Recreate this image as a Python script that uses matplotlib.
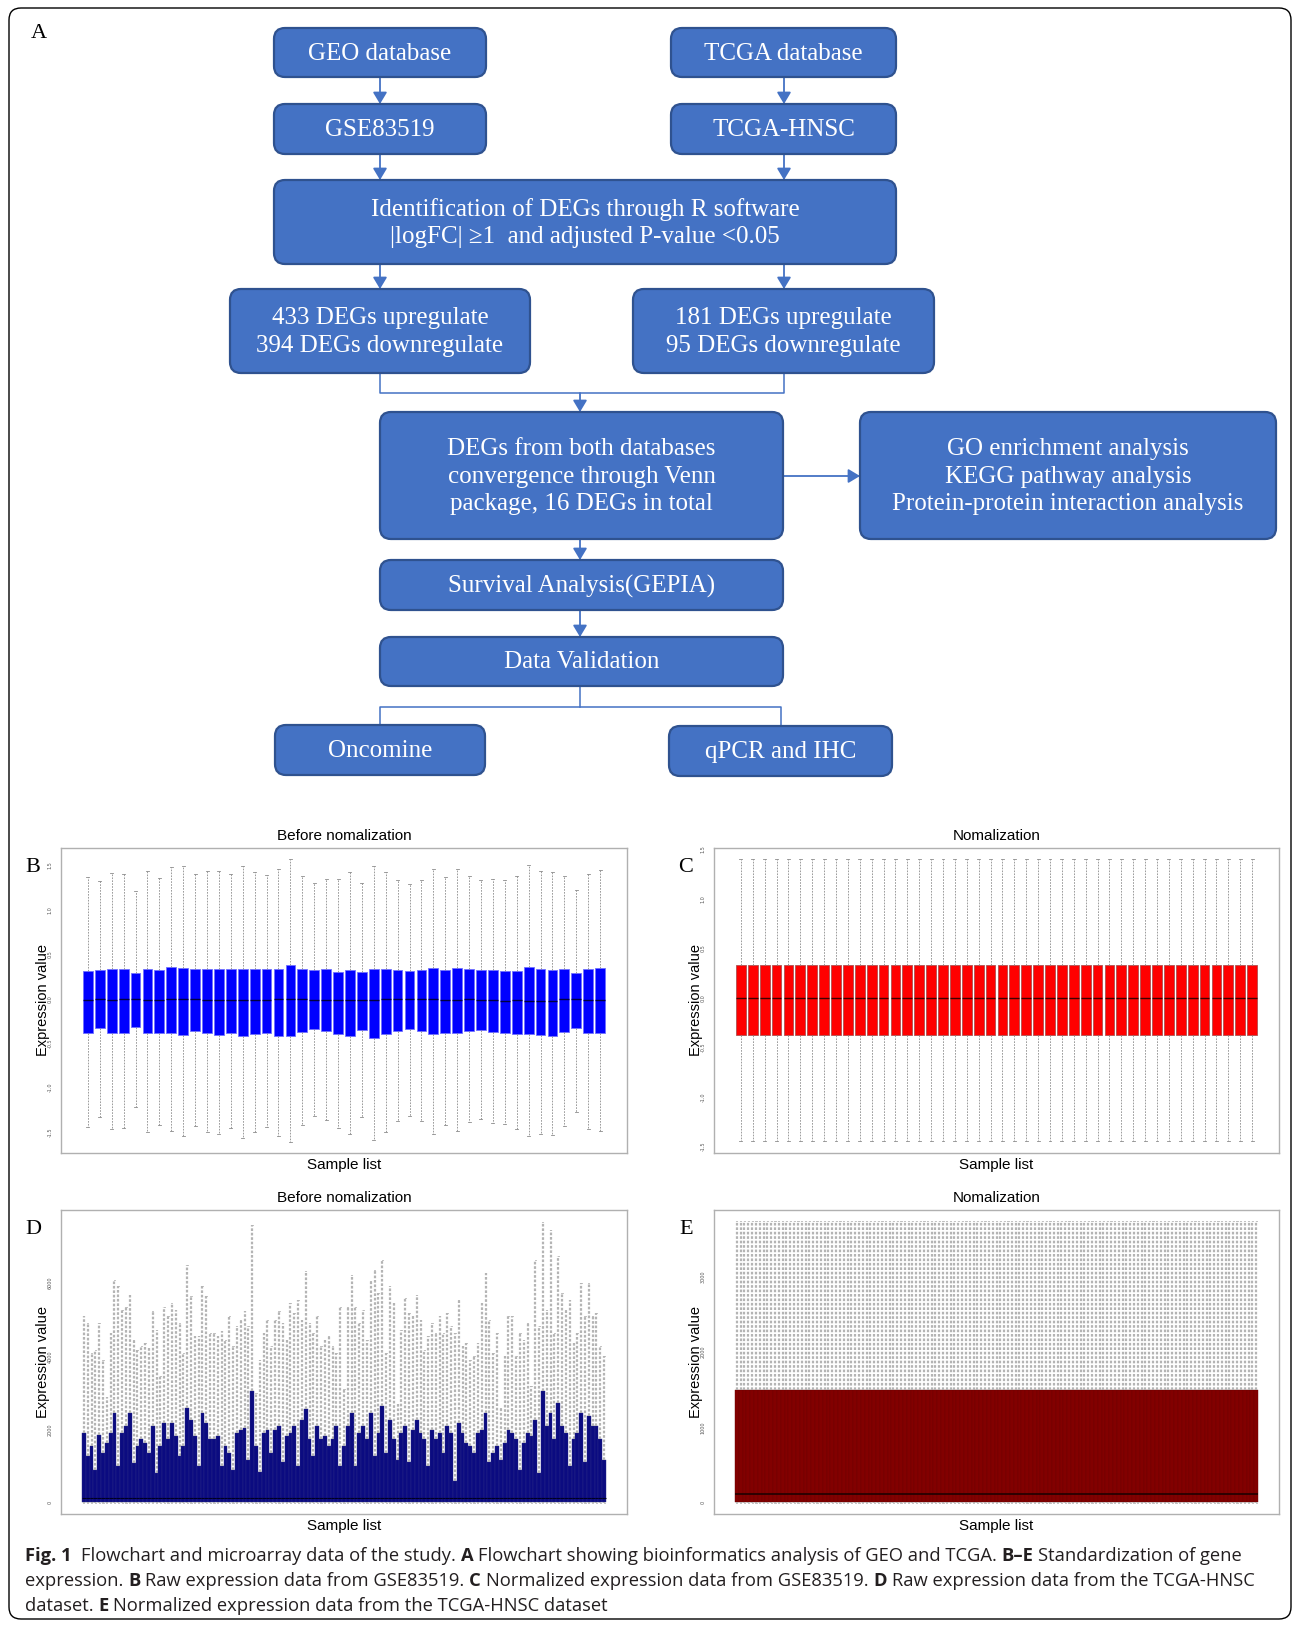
import matplotlib
matplotlib.use("Agg")
import matplotlib.pyplot as plt
from matplotlib.patches import FancyBboxPatch

# ---------------- data ----------------
# panel B: GSE83519 raw (44 samples)
b_whishi = [1.37, 1.33, 1.42, 1.41, 1.21, 1.44, 1.36, 1.48, 1.49, 1.40, 1.44, 1.44, 1.40, 1.49,
            1.43, 1.39, 1.46, 1.57, 1.38, 1.30, 1.35, 1.35, 1.43, 1.30, 1.49, 1.43, 1.34, 1.29,
            1.34, 1.46, 1.37, 1.46, 1.38, 1.34, 1.35, 1.34, 1.38, 1.51, 1.44, 1.43, 1.38, 1.23,
            1.41, 1.45]
b_q3 = [0.31, 0.32, 0.33, 0.33, 0.29, 0.34, 0.32, 0.36, 0.35, 0.34, 0.34, 0.33, 0.33, 0.34,
        0.33, 0.33, 0.33, 0.38, 0.33, 0.32, 0.33, 0.30, 0.32, 0.30, 0.33, 0.33, 0.32, 0.31,
        0.32, 0.35, 0.32, 0.35, 0.33, 0.32, 0.32, 0.31, 0.31, 0.36, 0.33, 0.32, 0.33, 0.29,
        0.33, 0.35]
b_med = [-0.01, 0.0, -0.01, 0.0, 0.0, -0.01, -0.01, 0.0, 0.0, 0.0, -0.01, -0.01, -0.01, -0.01,
         -0.01, -0.01, 0.0, 0.0, 0.0, -0.01, -0.01, -0.01, -0.01, -0.01, -0.01, 0.0, 0.0, 0.0,
         0.0, 0.0, -0.01, -0.01, 0.0, -0.01, -0.01, -0.02, -0.01, -0.02, -0.02, -0.02, 0.0, 0.0,
         -0.01, -0.01]
b_q1 = [-0.38, -0.33, -0.39, -0.38, -0.32, -0.39, -0.38, -0.38, -0.41, -0.36, -0.39, -0.41,
        -0.38, -0.42, -0.40, -0.38, -0.42, -0.42, -0.37, -0.34, -0.36, -0.40, -0.42, -0.35,
        -0.44, -0.40, -0.36, -0.34, -0.36, -0.40, -0.38, -0.39, -0.36, -0.35, -0.37, -0.38,
        -0.40, -0.40, -0.41, -0.42, -0.37, -0.33, -0.38, -0.38]
b_whislo = [-1.44, -1.33, -1.47, -1.46, -1.22, -1.50, -1.42, -1.49, -1.54, -1.43, -1.50, -1.52,
            -1.45, -1.57, -1.50, -1.44, -1.54, -1.61, -1.42, -1.32, -1.37, -1.45, -1.52, -1.33,
            -1.59, -1.50, -1.38, -1.32, -1.38, -1.52, -1.42, -1.49, -1.39, -1.35, -1.40, -1.41,
            -1.47, -1.55, -1.52, -1.53, -1.43, -1.27, -1.47, -1.49]

# panel C: GSE83519 normalized (all samples identical)
c_n = 44
c_stats = dict(whislo=-1.443, q1=-0.372, med=0.0, q3=0.336, whishi=1.40)

# panel D: TCGA-HNSC raw
d_whishi = [5090, 4910, 4090, 4180, 4910, 3910, 2900, 4640, 6090, 5910, 5270, 5360, 5680, 4450,
            4180, 4270, 4360, 4230, 5230, 4730, 3450, 5360, 5090, 5450, 5270, 4910, 4090, 6500,
            5640, 4550, 4550, 5910, 5640, 4640,
            4640, 4550, 4680, 4450, 5090, 4270, 4820, 5000, 5230, 4820, 7590, 3000, 3910, 4640,
            5000, 4270, 5000, 5230, 4910, 4450, 5450, 5180, 5550, 5000, 6320, 4910, 4640, 5090,
            4270, 4450, 4550, 4270, 4090, 5360,
            3100, 5360, 6230, 5360, 4910, 5270, 4450, 6050, 6360, 5730, 6640, 4090, 5910, 5450,
            2700, 4730, 5590, 5180, 5090, 5680, 5000, 4180, 4550, 4910, 4640, 5090, 4640, 5180,
            4820, 4640, 5550, 4270, 4360,
            3910, 4000, 4360, 5450, 6270, 5000, 4090, 4640, 2600, 4000, 5090, 5090, 4000, 4640,
            4450, 4910, 3200, 6640, 4820, 7680, 5270, 7450, 4640, 6730, 5730, 5270, 5550, 4360,
            4640, 6000, 5090, 6000, 5090, 5180, 4270, 4000]
d_q3 = [1910, 1270, 1550, 900, 1860, 1360, 1630, 1910, 2450, 1000, 1910, 2090, 2450, 1090,
        1550, 1730, 1640, 1360, 2090, 800, 1550, 2180, 1730, 2180, 1820, 1270, 1550, 2590,
        2270, 1820, 1000, 2450, 2180, 1730,
        1730, 1820, 1000, 1550, 1360, 900, 1910, 2000, 2050, 1180, 3050, 1550, 850, 1910,
        2000, 1360, 2000, 2090, 1100, 1820, 1910, 2090, 1000, 2270, 2550, 1730, 1270, 2090,
        1730, 1820, 1550, 1730, 2090, 1000,
        1550, 2090, 2450, 1000, 1910, 2090, 1730, 2450, 1270, 1910, 2640, 1360, 2270, 1730,
        1180, 1910, 2090, 1100, 2000, 2270, 1910, 1730, 1000, 2000, 1730, 1910, 1360, 2090,
        1910, 600, 2180, 1910, 1640,
        1550, 1360, 1910, 2000, 2450, 1100, 1360, 1550, 1180, 1640, 2000, 1910, 1730, 900,
        1640, 1910, 1820, 2270, 800, 3050, 2090, 2450, 1730, 2720, 2090, 1910, 1000, 1730,
        1910, 2450, 1100, 2360, 2090, 2090, 1730, 1180]
d_med = 120
d_q1 = 15
d_whislo = 0

# panel E: TCGA-HNSC normalized (all samples identical)
e_stats = dict(whislo=0, q1=10, med=120, q3=1496, whishi=3739)

# flowchart text
flow_texts = ["GEO database", "TCGA database", "GSE83519", "TCGA-HNSC",
              "Identification of DEGs through R software\n|logFC| \u22651  and adjusted P-value <0.05",
              "433 DEGs upregulate\n394 DEGs downregulate",
              "181 DEGs upregulate\n95 DEGs downregulate",
              "DEGs from both databases\nconvergence through Venn\npackage, 16 DEGs in total",
              "GO enrichment analysis\nKEGG pathway analysis\nProtein-protein interaction analysis",
              "Survival Analysis(GEPIA)", "Data Validation", "Oncomine", "qPCR and IHC"]

caption = [
    [("Fig. 1", True), ("  Flowchart and microarray data of the study. ", False), ("A", True),
     (" Flowchart showing bioinformatics analysis of GEO and TCGA. ", False), ("B\u2013E", True),
     (" Standardization of gene", False)],
    [("expression. ", False), ("B", True), (" Raw expression data from GSE83519. ", False), ("C", True),
     (" Normalized expression data from GSE83519. ", False), ("D", True),
     (" Raw expression data from the TCGA-HNSC", False)],
    [("dataset. ", False), ("E", True), (" Normalized expression data from the TCGA-HNSC dataset", False)],
]

# ---------------- figure ----------------
W, H = 1295, 1625
fig = plt.figure(figsize=(W / 100, H / 100), dpi=100)
bg = fig.add_axes([0, 0, 1, 1])
bg.set_xlim(0, W)
bg.set_ylim(H, 0)
bg.axis("off")

blue = "#4472C4"
serif = ["Liberation Serif", "DejaVu Serif"]
sans = ["Liberation Sans", "DejaVu Sans"]

# outer frame
bg.add_patch(FancyBboxPatch((9, 8), 1282, 1611, boxstyle="round,pad=0,rounding_size=12",
                            fc="none", ec="black", lw=1.0))

# flowchart boxes (left, top, right, bottom in px)
box_pos = [(274, 28, 486, 77), (671, 28, 896, 77), (274, 104, 486, 154), (671, 104, 896, 154),
           (274, 180, 896, 264), (230, 289, 530, 373), (633, 289, 934, 373),
           (380, 412, 783, 539), (860, 412, 1276, 539), (380, 560, 783, 610),
           (380, 637, 783, 686), (275, 725, 485, 775), (669, 726, 892, 776)]
for (l, t, r, b), txt in zip(box_pos, flow_texts):
    bg.add_patch(FancyBboxPatch((l, t), r - l, b - t, boxstyle="round,pad=0,rounding_size=11",
                                fc=blue, ec="#2F528F", lw=1.6, zorder=2))
    bg.text((l + r) / 2, (t + b) / 2 + 1, txt, color="white", family=serif, fontsize=18,
            ha="center", va="center", linespacing=1.32, zorder=3)

arrows = [((380, 77), (380, 104)), ((784, 77), (784, 104)), ((380, 154), (380, 180)),
          ((784, 154), (784, 180)), ((380, 264), (380, 289)), ((784, 264), (784, 289)),
          ((580, 393), (580, 412)), ((783, 476), (860, 476)), ((580, 539), (580, 560)),
          ((580, 610), (580, 637))]
for s, e in arrows:
    bg.annotate("", xy=e, xytext=s,
                arrowprops=dict(arrowstyle="-|>,head_length=0.5,head_width=0.3", color=blue,
                                lw=1.3, shrinkA=0, shrinkB=0, mutation_scale=14), zorder=1)

bg.plot([380, 380, 784, 784], [373, 393, 393, 373], color=blue, lw=1.1, zorder=1)
bg.plot([580, 580], [686, 707], color=blue, lw=1.1, zorder=1)
bg.plot([380, 380, 781, 781], [725, 707, 707, 726], color=blue, lw=1.1, zorder=1)

bg.text(39, 33, "A", family=serif, fontsize=16, ha="center", va="center")


def ax_at(l, t, r, b):
    return fig.add_axes([l / W, 1 - b / H, (r - l) / W, (b - t) / H])


def boxpanel(ax, stats, face, edge, wcol, mcol, width, blw, capw, wlw, mlw, dash=(2, 1.5)):
    ax.bxp(stats, widths=width, patch_artist=True, showfliers=False, capwidths=capw,
           boxprops=dict(facecolor=face, edgecolor=edge, linewidth=blw),
           whiskerprops=dict(color=wcol, linestyle=(0, dash), linewidth=wlw),
           capprops=dict(color=wcol, linewidth=min(wlw, 0.6)),
           medianprops=dict(color=mcol, linewidth=mlw))
    n = len(stats)
    ax.set_xlim(0.5 - 0.04 * n, n + 0.5 + 0.04 * n)
    ax.set_xticks([])
    for sp in ax.spines.values():
        sp.set_color("#b0b0b0")
        sp.set_linewidth(1.0)
    ax.tick_params(axis="y", length=0, pad=6, labelsize=3.5, labelcolor="#555555")


def decorate(ax_box, title, letter):
    l, t, r, b = ax_box
    cx = (l + r) / 2
    fig.text(cx / W, 1 - (t - 12) / H, title, family=sans, fontsize=11, ha="center", va="center")
    fig.text(cx / W, 1 - (b + 12) / H, "Sample list", family=sans, fontsize=11, ha="center", va="center")
    fig.text((l - 18) / W, 1 - ((t + b) / 2) / H, "Expression value", family=sans, fontsize=10.5,
             rotation=90, ha="center", va="center")
    fig.text((l - 28) / W, 1 - (t + 19) / H, letter, family=serif, fontsize=16, ha="center", va="center")


def set_yt(ax, ticks, labels):
    ax.set_yticks(ticks)
    ax.set_yticklabels(labels, rotation=90, va="center")


# panel B
pos_B = (61, 848, 627, 1153)
axB = ax_at(*pos_B)
statsB = [dict(whislo=a, q1=b, med=c, q3=d, whishi=e, fliers=[])
          for a, b, c, d, e in zip(b_whislo, b_q1, b_med, b_q3, b_whishi)]
boxpanel(axB, statsB, "#0000ff", "#7070ff", "#8c8c8c", "#000040", 0.82, 0.6, 0.25, 0.6, 1.0)
axB.set_ylim(-1.737, 1.698)
set_yt(axB, [-1.5, -1.0, -0.5, 0.0, 0.5, 1.0, 1.5], ["-1.5", "-1.0", "-0.5", "0.0", "0.5", "1.0", "1.5"])
decorate(pos_B, "Before nomalization", "B")

# panel C
pos_C = (714, 848, 1279, 1153)
axC = ax_at(*pos_C)
statsC = [dict(c_stats, fliers=[]) for _ in range(c_n)]
boxpanel(axC, statsC, "#ff0000", "#b05050", "#8c8c8c", "#400000", 0.82, 0.6, 0.25, 0.6, 1.0)
axC.set_ylim(-1.564, 1.514)
set_yt(axC, [-1.5, -1.0, -0.5, 0.0, 0.5, 1.0, 1.5], ["-1.5", "-1.0", "-0.5", "0.0", "0.5", "1.0", "1.5"])
decorate(pos_C, "Nomalization", "C")

# panel D
pos_D = (61, 1210, 627, 1514)
axD = ax_at(*pos_D)
statsD = [dict(whislo=d_whislo, q1=d_q1, med=d_med, q3=q, whishi=w, fliers=[])
          for q, w in zip(d_q3, d_whishi)]
boxpanel(axD, statsD, "#0b0b80", "#2a2a88", "#b4b4b4", "#000020", 1.0, 0.3, 0.3, 1.6, 0.8,
         dash=(1.2, 0.8))
axD.set_ylim(-308, 8000)
set_yt(axD, [0, 2000, 4000, 6000], ["0", "2000", "4000", "6000"])
decorate(pos_D, "Before nomalization", "D")

# panel E
pos_E = (714, 1210, 1279, 1514)
axE = ax_at(*pos_E)
statsE = [dict(e_stats, fliers=[]) for _ in range(len(d_q3))]
boxpanel(axE, statsE, "#820000", "#6a0000", "#b4b4b4", "#200000", 1.0, 0.3, 0.3, 1.6, 1.2,
         dash=(1.2, 0.8))
axE.set_ylim(-150, 3889)
set_yt(axE, [0, 1000, 2000, 3000], ["0", "1000", "2000", "3000"])
decorate(pos_E, "Nomalization", "E")

# caption with bold runs
renderer = fig.canvas.get_renderer()
cap_family = ["Open Sans", "DejaVu Sans"]


def draw_caption(fs):
    made = []
    probe1 = fig.text(0, 0, "xx", fontsize=fs, family=cap_family)
    probe2 = fig.text(0, 0, "x x", fontsize=fs, family=cap_family)
    sp = probe2.get_window_extent(renderer).width - probe1.get_window_extent(renderer).width
    probe1.remove()
    probe2.remove()
    widths = []
    for i, line in enumerate(caption):
        x = 25
        y = 1556 + 25 * i
        for s, bold in line:
            x += (len(s) - len(s.lstrip(" "))) * sp
            t = fig.text(x / W, 1 - y / H, s.strip(" "), fontsize=fs, family=cap_family,
                         weight="bold" if bold else "normal", color="#231f20", va="center")
            made.append(t)
            x = t.get_window_extent(renderer).x1 + (len(s) - len(s.rstrip(" "))) * sp
        widths.append(x - 25)
    return made, widths[0]


texts, w0 = draw_caption(12)
for t in texts:
    t.remove()
draw_caption(12 * 1214 / w0)

fig.savefig("out.png", dpi=100)
